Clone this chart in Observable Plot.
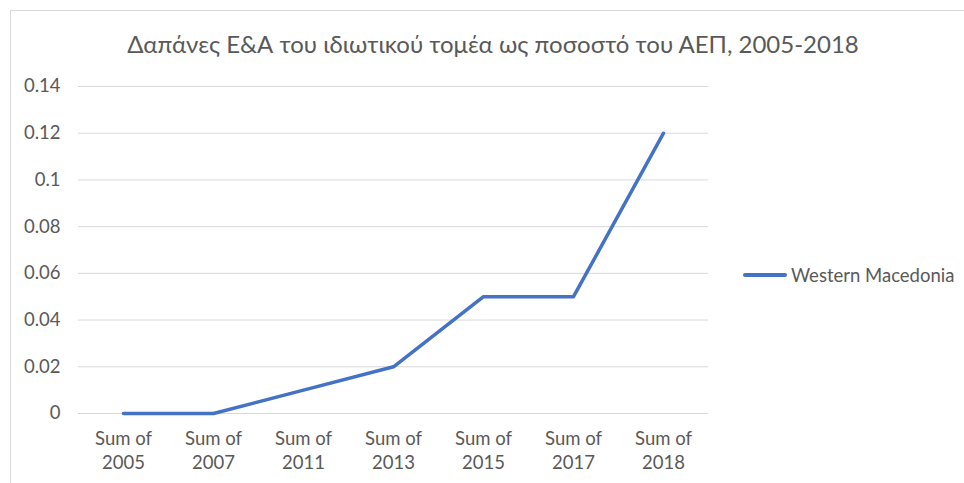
<!DOCTYPE html>
<html>
<head>
<meta charset="utf-8">
<script src="https://cdn.jsdelivr.net/npm/d3@7"></script>
<script src="https://cdn.jsdelivr.net/npm/@observablehq/plot@0.6"></script>
<style>
  html, body { margin: 0; padding: 0; background: #fff; }
  #wrap { position: relative; width: 964px; height: 483px; overflow: hidden; background: #fff; font-family: Lato, "Open Sans", sans-serif; }
  #frame { position: absolute; left: 10px; top: 10px; width: 970px; height: 490px; border-left: 1px solid #d9d9d9; border-top: 1px solid #d9d9d9; box-sizing: border-box; }
  #title { position: absolute; left: 0; width: 986px; top: 30px; text-align: center; font-size: 24px; color: #595959; line-height: 28px; white-space: nowrap; }
  #legend { position: absolute; left: 743px; top: 264px; display: flex; align-items: center; font-size: 18.5px; color: #595959; line-height: 22px; }
  #legend .sw { width: 44px; height: 3.5px; background: #4472C4; border-radius: 2px; margin-right: 4px; }
  #chart { position: absolute; left: 0; top: 0; }
</style>
</head>
<body>
<div id="wrap">
  <div id="frame"></div>
  <div id="chart"></div>
  <div id="title"></div>
  <div id="legend"><div class="sw"></div><span id="legtext"></span></div>
</div>
<script>
const titleText = "Δαπάνες Ε&Α του ιδιωτικού τομέα ως ποσοστό του ΑΕΠ, 2005-2018";
const seriesName = "Western Macedonia";
const categories = ["Sum of 2005", "Sum of 2007", "Sum of 2011", "Sum of 2013", "Sum of 2015", "Sum of 2017", "Sum of 2018"];
const values = [0, 0, 0.01, 0.02, 0.05, 0.05, 0.12];
const yTicks = [0, 0.02, 0.04, 0.06, 0.08, 0.1, 0.12, 0.14];

document.getElementById("title").textContent = titleText;
document.getElementById("legtext").textContent = seriesName;

const data = categories.map((c, i) => ({cat: c, value: values[i]}));

const chart = Plot.plot({
  width: 964,
  height: 483,
  marginLeft: 78,
  marginRight: 256,
  marginTop: 86,
  marginBottom: 70,
  style: {background: "transparent", fontFamily: "Lato, 'Open Sans', sans-serif", fontSize: "18.5px", color: "#595959"},
  x: {type: "point", domain: categories, padding: 0.5},
  y: {domain: [0, 0.14]},
  marks: [
    Plot.gridY(yTicks, {stroke: "#d9d9d9", strokeOpacity: 1, strokeWidth: 1}),
    Plot.axisY(yTicks, {tickSize: 0, tickPadding: 18, label: null, fill: "#595959", fontSize: 18.5,
      tickFormat: d => String(+d.toFixed(2))}),
    Plot.axisX({tickSize: 0, tickPadding: 14, label: null, fill: "#595959", fontSize: 18.5, lineHeight: 1.3,
      tickFormat: d => d.replace(/ (\d{4})$/, "\n$1")}),
    Plot.line(data, {x: "cat", y: "value", stroke: "#4472C4", strokeWidth: 3.5, strokeLinejoin: "round", strokeLinecap: "round"})
  ]
});
document.getElementById("chart").appendChild(chart);
</script>
</body>
</html>
